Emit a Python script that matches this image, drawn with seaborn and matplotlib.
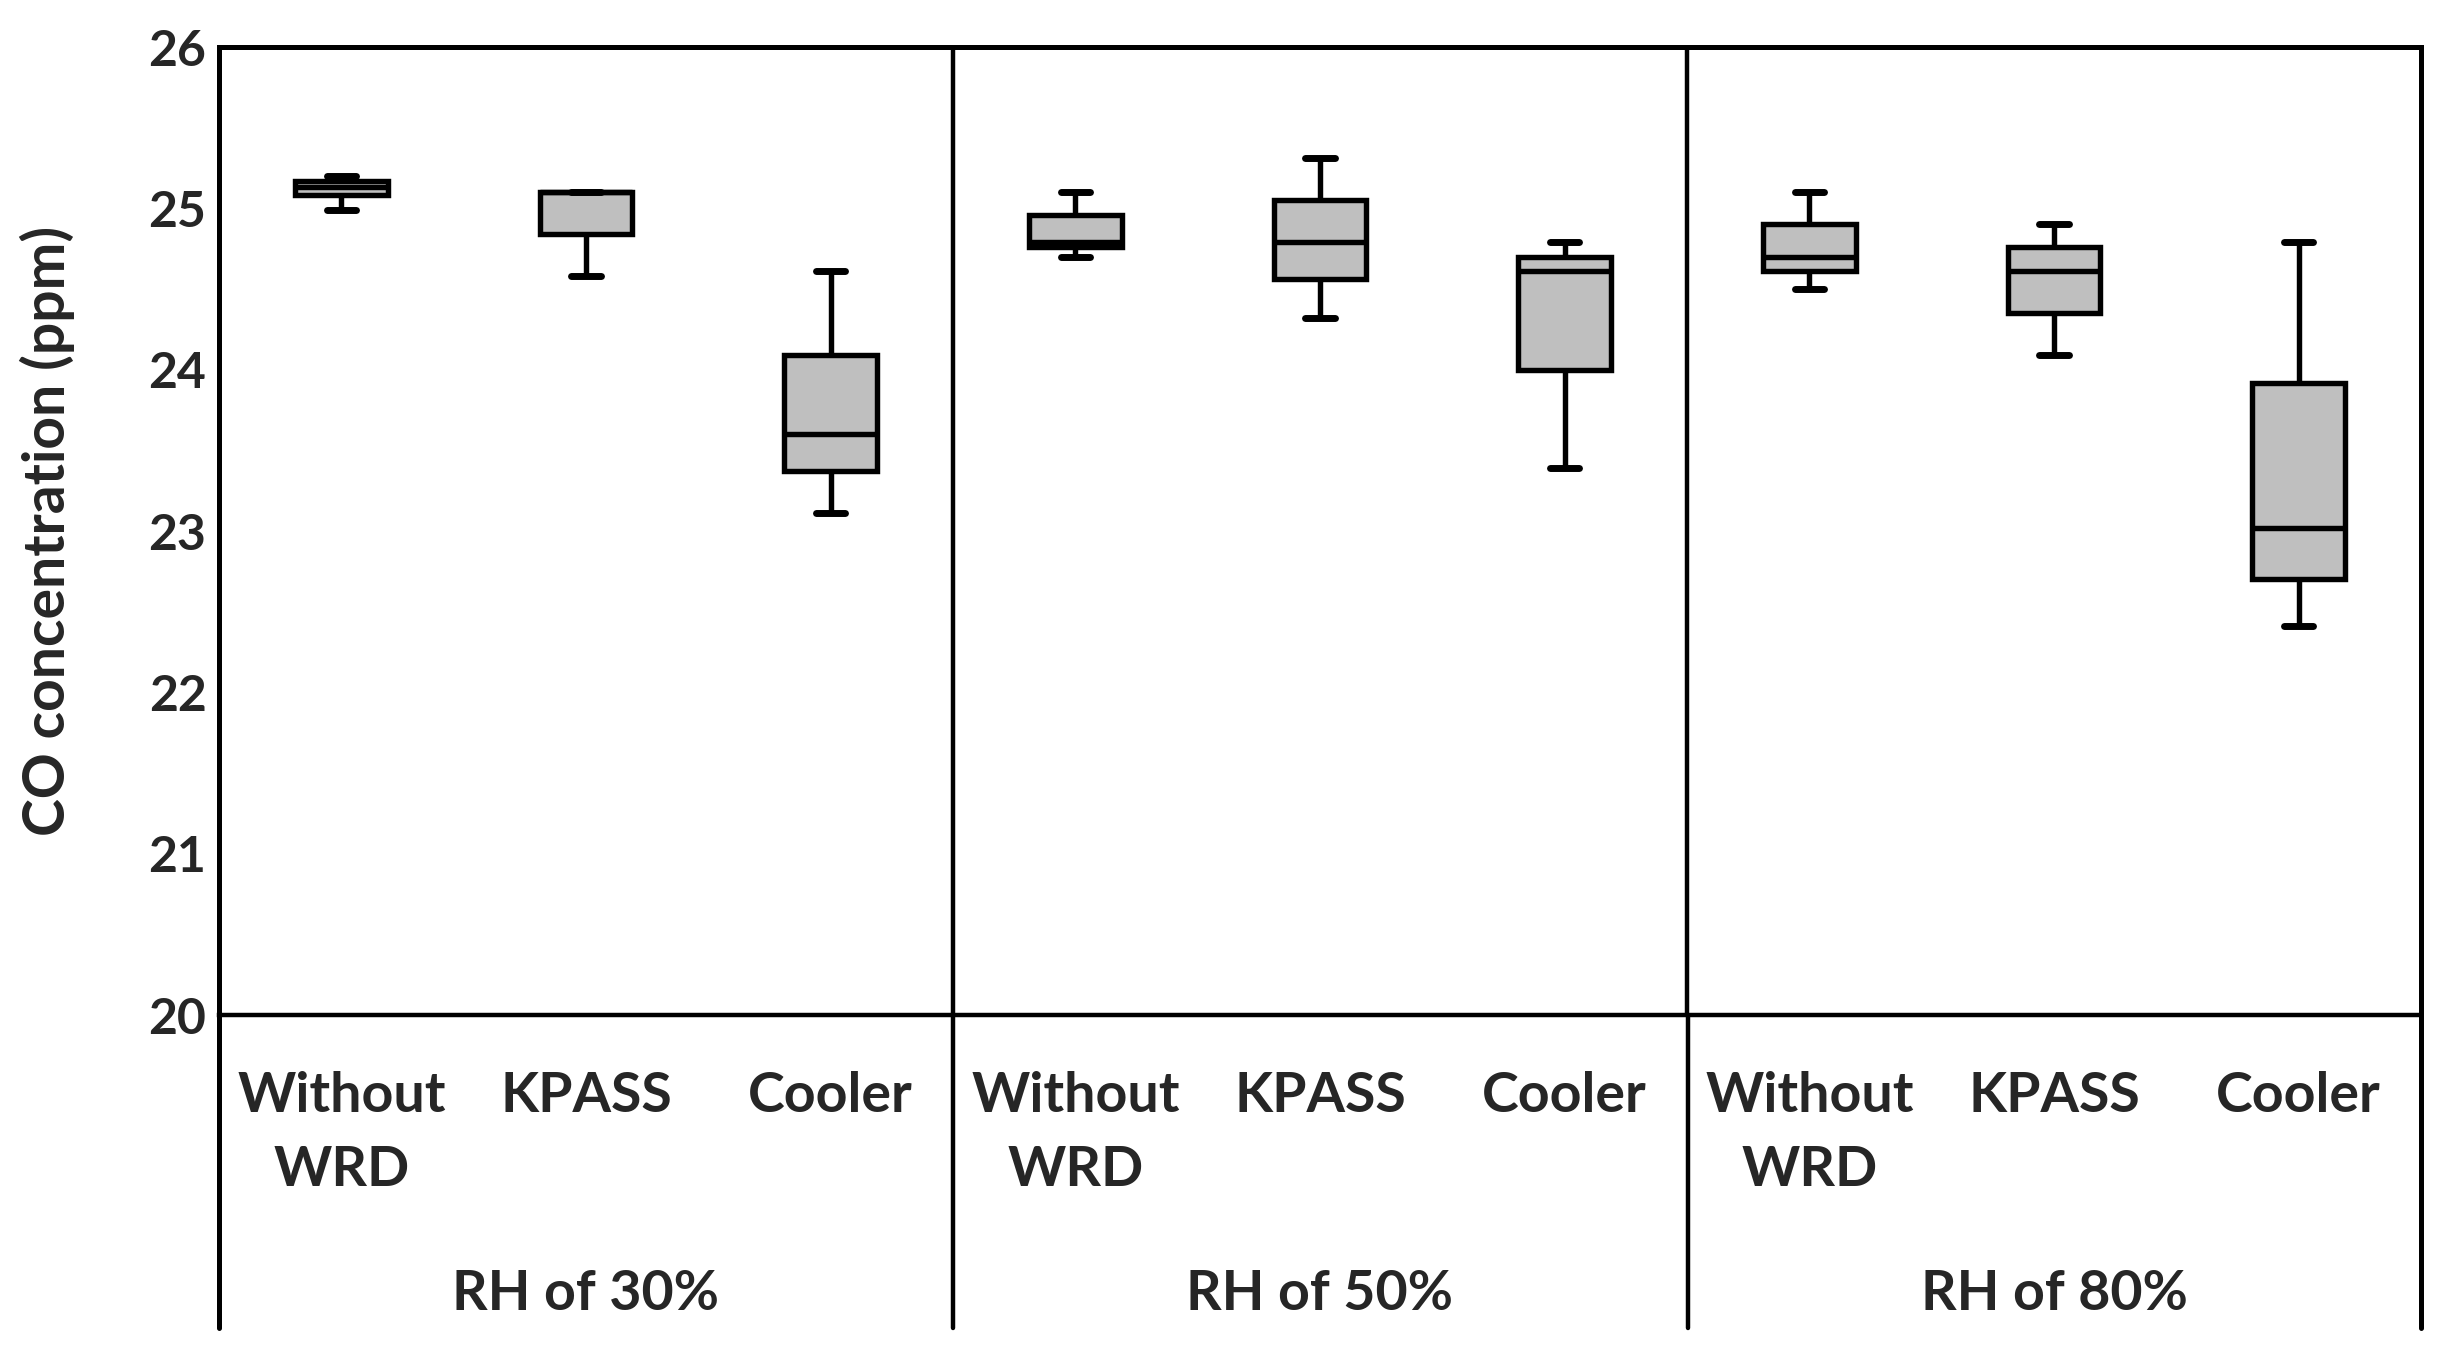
import matplotlib
matplotlib.use("Agg")
import matplotlib.pyplot as plt
import seaborn as sns
import pandas as pd
from matplotlib.lines import Line2D

# ---- data (five-number summaries) ----
humidity = ["RH of 30%", "RH of 50%", "RH of 80%"]
devices = ["Without\nWRD", "KPASS", "Cooler"]

# order per box: min, q1, median, q3, max
rh30_without = [24.99, 25.08, 25.13, 25.17, 25.20]
rh30_kpass   = [24.58, 24.84, 25.10, 25.10, 25.10]
rh30_cooler  = [23.11, 23.37, 23.60, 24.09, 24.61]
rh50_without = [24.70, 24.76, 24.79, 24.96, 25.10]
rh50_kpass   = [24.32, 24.56, 24.79, 25.05, 25.31]
rh50_cooler  = [23.39, 24.00, 24.61, 24.70, 24.79]
rh80_without = [24.50, 24.61, 24.70, 24.90, 25.10]
rh80_kpass   = [24.09, 24.35, 24.61, 24.76, 24.90]
rh80_cooler  = [22.41, 22.70, 23.02, 23.92, 24.79]

yticks = [20, 21, 22, 23, 24, 25, 26]
ylabel = "CO concentration (ppm)"

series = [
    [rh30_without, rh30_kpass, rh30_cooler],
    [rh50_without, rh50_kpass, rh50_cooler],
    [rh80_without, rh80_kpass, rh80_cooler],
]

rows = []
order = []
for h, grp in zip(humidity, series):
    for d, vals in zip(devices, grp):
        key = f"{h}|{d}"
        order.append(key)
        for v in vals:
            rows.append({"slot": key, "value": v})
df = pd.DataFrame(rows)

# ---- figure ----
sns.set_style("white")
plt.rcParams["font.family"] = ["Lato", "DejaVu Sans"]
plt.rcParams["font.weight"] = "bold"

W, H = 2450, 1357
fig = plt.figure(figsize=(W / 100, H / 100), dpi=100)
L, R, T, B = 219, 2421, 47, 1015
ax = fig.add_axes([L / W, 1 - B / H, (R - L) / W, (B - T) / H])

sns.boxplot(data=df, x="slot", y="value", order=order, ax=ax,
            whis=(0, 100), width=0.38, color="#BFBFBF", saturation=1,
            linecolor="black", linewidth=3.9, fliersize=0,
            capwidths=0.12, capprops={"linewidth": 5})

ax.set_xlim(-0.5, len(order) - 0.5)
ax.set_ylim(20, 26)
ax.set_yticks(yticks)
ax.set_yticklabels([str(t) for t in yticks], fontsize=36, fontweight="bold")
ax.tick_params(axis="y", length=0, pad=9)
ax.set_xticks(range(len(order)))
ax.set_xticklabels([o.split("|")[1] for o in order], fontsize=40,
                   fontweight="bold", linespacing=1.6)
ax.tick_params(axis="x", length=0, pad=40)
ax.set_xlabel("")
ax.set_ylabel(ylabel, fontsize=41, fontweight="bold")
ax.yaxis.set_label_coords(-0.0654, 0.5)

for s in ax.spines.values():
    s.set_visible(True)
    s.set_color("black")
    s.set_linewidth(3.6)
ax.spines["bottom"].set_linewidth(3.2)

for xsep in [2.5, 5.5]:
    ax.axvline(xsep, color="black", linewidth=3.2)

# lower category table lines
ybot = 1 - 1328 / H
ytop = 1 - B / H
for xpix, lw in [(L, 3.6), (953, 3.2), (1688, 3.2), (R, 3.6)]:
    fig.add_artist(Line2D([xpix / W, xpix / W], [ybot, ytop],
                          color="black", linewidth=lw))

# group labels
for i, h in enumerate(humidity):
    xc = (3 * i + 1)
    xfig = (L + (xc + 0.5) / 9 * (R - L)) / W
    fig.text(xfig, 1 - 1294 / H, h, ha="center", va="center",
             fontsize=40, fontweight="bold")

fig.savefig("out.png", dpi=100, facecolor="white")
